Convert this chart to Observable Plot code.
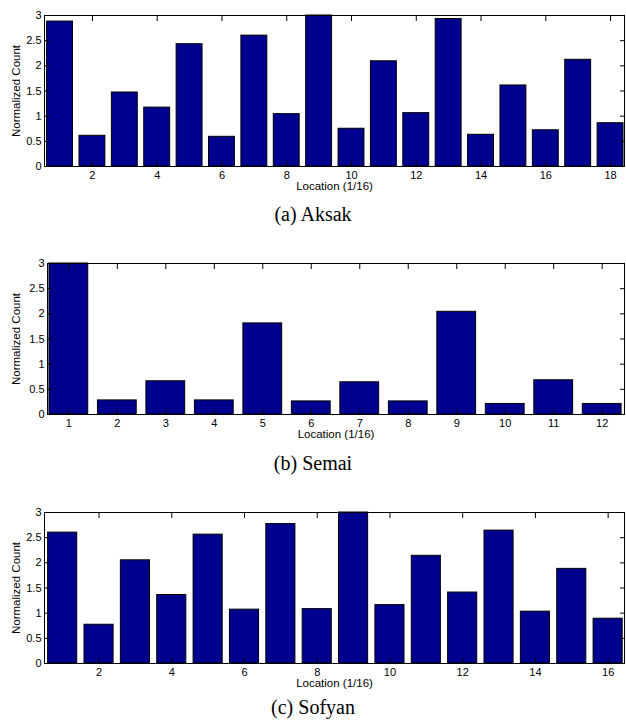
<!DOCTYPE html>
<html>
<head>
<meta charset="utf-8">
<script src="https://cdn.jsdelivr.net/npm/d3@7"></script>
<script src="https://cdn.jsdelivr.net/npm/@observablehq/plot@0.6"></script>
<style>
  html, body { margin: 0; padding: 0; background: #fff; }
  #root { position: relative; width: 626px; height: 720px; overflow: hidden; }
  .panel { position: absolute; left: 0; }
  .caption { position: absolute; left: 0; width: 626px; text-align: center;
             font-family: "Liberation Serif", "Times New Roman", serif; font-size: 20px; line-height: 20px; color: #000; }
</style>
</head>
<body>
<div id="root"></div>
<script>
// ---- data ----
const aksakLocations = [1,2,3,4,5,6,7,8,9,10,11,12,13,14,15,16,17,18];
const aksakValues = [2.88, 0.61, 1.47, 1.17, 2.43, 0.59, 2.60, 1.04, 3.00, 0.75, 2.09, 1.06, 2.93, 0.63, 1.61, 0.72, 2.12, 0.86];
const aksakTicks = [2,4,6,8,10,12,14,16,18];

const semaiLocations = [1,2,3,4,5,6,7,8,9,10,11,12];
const semaiValues = [3.00, 0.28, 0.66, 0.28, 1.81, 0.26, 0.64, 0.26, 2.04, 0.21, 0.68, 0.21];
const semaiTicks = [1,2,3,4,5,6,7,8,9,10,11,12];

const sofyanLocations = [1,2,3,4,5,6,7,8,9,10,11,12,13,14,15,16];
const sofyanValues = [2.60, 0.77, 2.05, 1.36, 2.56, 1.07, 2.77, 1.08, 3.00, 1.16, 2.14, 1.41, 2.64, 1.03, 1.88, 0.89];
const sofyanTicks = [2,4,6,8,10,12,14,16];

const yTicks = [0, 0.5, 1, 1.5, 2, 2.5, 3];
const yLabel = "Normalized Count";
const xLabel = "Location (1/16)";
const captions = ["(a) Aksak", "(b) Semai", "(c) Sofyan"];

// ---- layout ----
const panels = [
  {locs: aksakLocations, vals: aksakValues, ticks: aksakTicks, domain: [0.52, 18.43], ml: 44, top: 0, capTop: 204},
  {locs: semaiLocations, vals: semaiValues, ticks: semaiTicks, domain: [0.56, 12.46], ml: 47, top: 248, capTop: 453},
  {locs: sofyanLocations, vals: sofyanValues, ticks: sofyanTicks, domain: [0.5, 16.45], ml: 44, top: 497, capTop: 697}
];

const root = document.getElementById("root");
const W = 626, H = 196, MT = 15, MB = 30, MR = 2;

panels.forEach((p, i) => {
  const data = p.locs.map((x, k) => ({x, v: p.vals[k]}));
  const chart = Plot.plot({
    width: W,
    height: H,
    marginTop: MT,
    marginBottom: MB,
    marginLeft: p.ml,
    marginRight: MR,
    style: {fontFamily: "'Liberation Sans', Arial, sans-serif", fontSize: "11px", background: "white", color: "black", overflow: "visible"},
    x: {domain: p.domain},
    y: {domain: [0, 3]},
    marks: [
      Plot.rectY(data, {x1: d => d.x - 0.4, x2: d => d.x + 0.4, y: "v", fill: "#00008f", stroke: "black", strokeWidth: 1}),
      Plot.frame({stroke: "black", strokeWidth: 1}),
      Plot.axisY({anchor: "left", ticks: yTicks, tickSize: 0, tickPadding: 3, tickFormat: d => String(d), label: null, fontSize: 11}),
      Plot.axisY({anchor: "left", ticks: yTicks, tickSize: -5, fill: "none", label: null}),
      Plot.axisY({anchor: "right", ticks: yTicks, tickSize: -5, fill: "none", label: null}),
      Plot.axisX({anchor: "bottom", ticks: p.ticks, tickSize: 0, tickPadding: 5, tickFormat: d => String(d), label: null, fontSize: 11}),
      Plot.axisX({anchor: "bottom", ticks: p.ticks, tickSize: -5, fill: "none", label: null}),
      Plot.axisX({anchor: "top", ticks: p.ticks, tickSize: -5, fill: "none", label: null}),
      Plot.text([yLabel], {text: d => d, frameAnchor: "left", rotate: -90, dx: 16 - p.ml, textAnchor: "middle", lineAnchor: "middle", fontSize: 11.5}),
      Plot.text([xLabel], {text: d => d, frameAnchor: "bottom", dy: 20, textAnchor: "middle", lineAnchor: "middle", fontSize: 11.5})
    ]
  });
  const wrap = document.createElement("div");
  wrap.className = "panel";
  wrap.style.top = p.top + "px";
  wrap.appendChild(chart);
  root.appendChild(wrap);

  const cap = document.createElement("div");
  cap.className = "caption";
  cap.style.top = p.capTop + "px";
  cap.textContent = captions[i];
  root.appendChild(cap);
});
</script>
</body>
</html>
